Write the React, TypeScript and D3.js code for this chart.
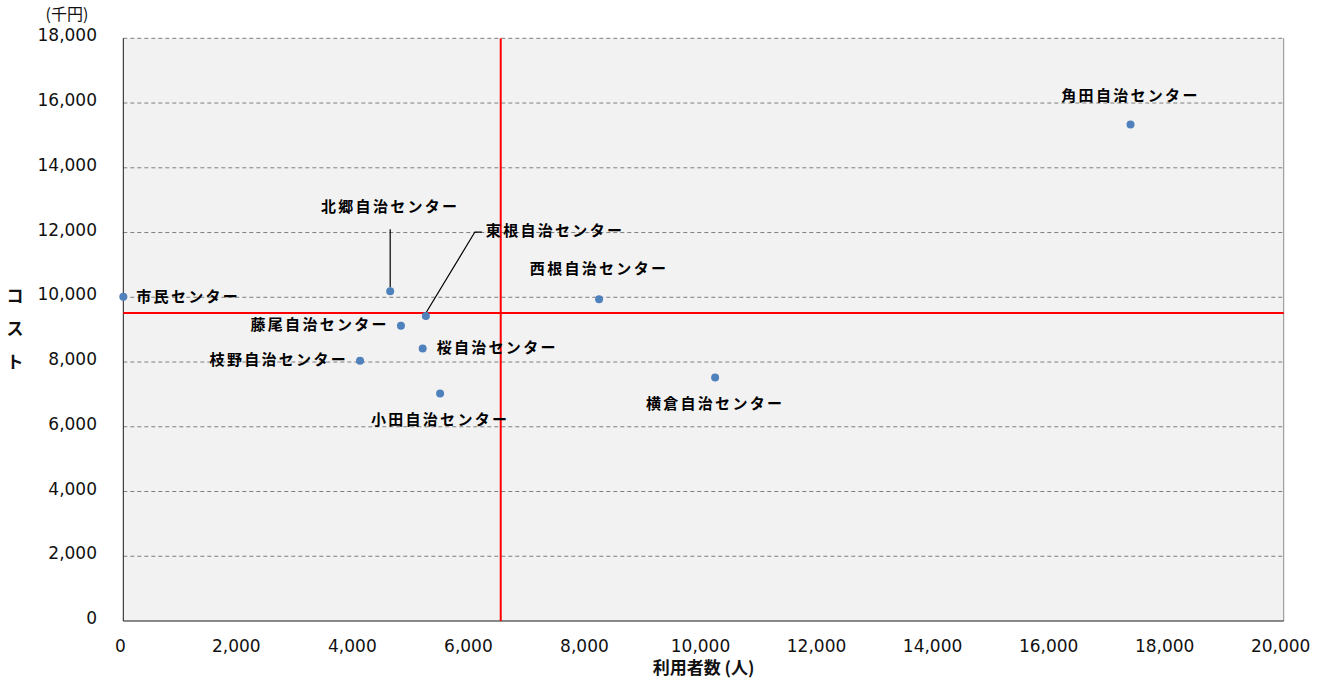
import React from "react";
import * as d3 from "d3";

const names = ["市民センター", "北郷自治センター", "東根自治センター", "藤尾自治センター", "桜自治センター", "枝野自治センター", "小田自治センター", "西根自治センター", "横倉自治センター", "角田自治センター"];
const users = [0, 4600, 5215, 4785, 5160, 4080, 5460, 8200, 10200, 17360];
const costs = [10020, 10185, 9420, 9120, 8420, 8040, 7030, 9940, 7520, 15340];
const xTicks = [0, 2000, 4000, 6000, 8000, 10000, 12000, 14000, 16000, 18000, 20000];
const yTicks = [0, 2000, 4000, 6000, 8000, 10000, 12000, 14000, 16000, 18000];
const avgUsers = 6505;
const avgCost = 9515;

// label placement: [dx, dy, anchor] relative to the point
const labelPos: [number, number, string][] = [
  [13, 1, "start"],
  [0, -83, "middle"],
  [60, -84, "start"],
  [-12, 0, "end"],
  [14, 0, "start"],
  [-12, 0, "end"],
  [0, 27, "middle"],
  [0, -29, "middle"],
  [0, 27, "middle"],
  [0, -27, "middle"],
];

export default function App() {
  const W = 1326, H = 684;
  const m = { left: 123.3, right: 1283.7, top: 38.3, bottom: 621 };
  const x = d3.scaleLinear().domain([0, 20000]).range([m.left, m.right]);
  const y = d3.scaleLinear().domain([0, 18000]).range([m.bottom, m.top]);
  const fmt = d3.format(",");
  const font = "'DejaVu Sans', Verdana, sans-serif";
  const jfont = "'Noto Sans CJK JP', sans-serif";

  return (
    <svg width={W} height={H} style={{ position: "absolute", left: 0, top: 0 }}>
      <rect x={0} y={0} width={W} height={H} fill="#ffffff" />
      <rect x={m.left} y={m.top} width={m.right - m.left} height={m.bottom - m.top} fill="#f2f2f2" />
      {yTicks.filter((t) => t > 0).map((t) => (
        <line key={t} x1={m.left} x2={m.right} y1={y(t)} y2={y(t)} stroke="#7f7f7f" strokeWidth={1} strokeDasharray="4,3" />
      ))}
      <line x1={m.right} x2={m.right} y1={m.top} y2={m.bottom} stroke="#8c8c8c" strokeWidth={1} />
      <line x1={m.left} x2={m.left} y1={m.top} y2={m.bottom} stroke="#1a1a1a" strokeWidth={1} />
      <line x1={m.left} x2={m.right} y1={m.bottom} y2={m.bottom} stroke="#1a1a1a" strokeWidth={1} />
      {/* average lines */}
      <line x1={x(avgUsers)} x2={x(avgUsers)} y1={m.top} y2={m.bottom} stroke="#ff0000" strokeWidth={2} />
      <line x1={m.left} x2={m.right} y1={y(avgCost)} y2={y(avgCost)} stroke="#ff0000" strokeWidth={2} />
      {/* tick labels */}
      {yTicks.map((t) => (
        <text key={t} x={97} y={y(t) - 2} textAnchor="end" dominantBaseline="middle" fontFamily={font} fontSize={17} fill="#111">{fmt(t)}</text>
      ))}
      {xTicks.map((t) => (
        <text key={t} x={x(t) - 3} y={647} textAnchor="middle" dominantBaseline="middle" fontFamily={font} fontSize={17} fill="#111">{fmt(t)}</text>
      ))}
      <text x={67} y={16} textAnchor="middle" dominantBaseline="middle" fontFamily={jfont} fontSize={16} fill="#111">(千円)</text>
      <text x={(m.left + m.right) / 2} y={669} textAnchor="middle" dominantBaseline="middle" fontFamily={jfont} fontSize={17} fontWeight="bold" fill="#111">利用者数 (人)</text>
      {["コ", "ス", "ト"].map((c, i) => (
        <text key={c} x={15} y={297 + i * 33} textAnchor="middle" dominantBaseline="middle" fontFamily={jfont} fontSize={17} fontWeight="bold" fill="#111">{c}</text>
      ))}
      {/* leader lines */}
      <line x1={x(users[1])} x2={x(users[1])} y1={y(costs[1]) - 4} y2={y(costs[1]) - 62} stroke="#000" strokeWidth={1.2} />
      <polyline points={`${x(users[2])},${y(costs[2]) - 3} ${x(users[2]) + 49},${y(costs[2]) - 84} ${x(users[2]) + 56},${y(costs[2]) - 84}`} fill="none" stroke="#000" strokeWidth={1.2} />
      {/* points */}
      {users.map((u, i) => (
        <circle key={i} cx={x(u)} cy={y(costs[i])} r={4} fill="#4f81bd" />
      ))}
      {/* labels */}
      {names.map((n, i) => (
        <text key={n} x={x(users[i]) + labelPos[i][0]} y={y(costs[i]) + labelPos[i][1]} textAnchor={labelPos[i][2] as any} dominantBaseline="middle" fontFamily={jfont} fontSize={15} fontWeight="bold" letterSpacing={2.3} fill="#000">{n}</text>
      ))}
    </svg>
  );
}
